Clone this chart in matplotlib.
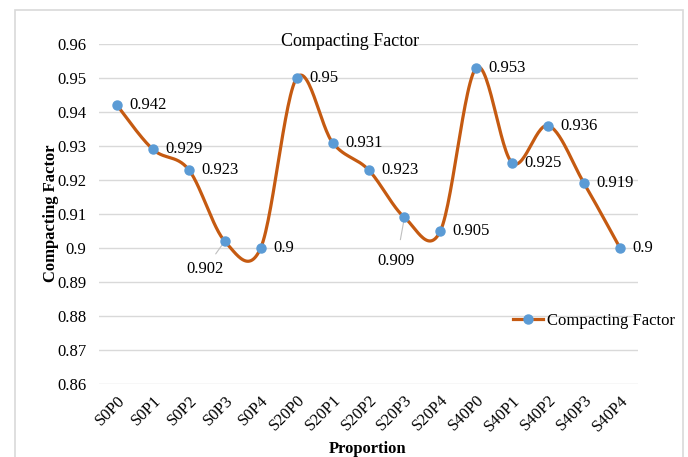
import numpy as np
import matplotlib
matplotlib.use("Agg")
import matplotlib.pyplot as plt
from matplotlib.lines import Line2D
from matplotlib.patches import Rectangle

plt.rcParams['font.family'] = ['Liberation Serif', 'DejaVu Serif']

# data
proportions = ['S0P0', 'S0P1', 'S0P2', 'S0P3', 'S0P4',
               'S20P0', 'S20P1', 'S20P2', 'S20P3', 'S20P4',
               'S40P0', 'S40P1', 'S40P2', 'S40P3', 'S40P4']
compacting = [0.942, 0.929, 0.923, 0.902, 0.9,
              0.95, 0.931, 0.923, 0.909, 0.905,
              0.953, 0.925, 0.936, 0.919, 0.9]
yticks = [0.86, 0.87, 0.88, 0.89, 0.9, 0.91, 0.92, 0.93, 0.94, 0.95, 0.96]
ytick_labels = ['0.86', '0.87', '0.88', '0.89', '0.9', '0.91', '0.92',
                '0.93', '0.94', '0.95', '0.96']

LINE = '#C55A11'
MARK = '#5B9BD5'
GRID = '#D9D9D9'


def smooth(x, y, n=30):
    # excel style smoothed line (catmull-rom as cubic bezier)
    x = np.asarray(x, float)
    y = np.asarray(y, float)
    px = np.concatenate([[x[0]], x, [x[-1]]])
    py = np.concatenate([[y[0]], y, [y[-1]]])
    t = np.linspace(0, 1, n)
    xs, ys = [], []
    for i in range(1, len(px) - 2):
        x0, y0 = px[i], py[i]
        x3, y3 = px[i + 1], py[i + 1]
        x1 = x0 + (px[i + 1] - px[i - 1]) / 6
        y1 = y0 + (py[i + 1] - py[i - 1]) / 6
        x2 = x3 - (px[i + 2] - px[i]) / 6
        y2 = y3 - (py[i + 2] - py[i]) / 6
        b0 = (1 - t) ** 3
        b1 = 3 * (1 - t) ** 2 * t
        b2 = 3 * (1 - t) * t ** 2
        b3 = t ** 3
        xs.append(b0 * x0 + b1 * x1 + b2 * x2 + b3 * x3)
        ys.append(b0 * y0 + b1 * y1 + b2 * y2 + b3 * y3)
    return np.concatenate(xs), np.concatenate(ys)


fig = plt.figure(figsize=(6.88, 4.57), dpi=100)
ax = fig.add_axes([99 / 688, 1 - 384 / 457, (638 - 99) / 688, (384 - 44) / 457])

x = np.arange(len(proportions))
sx, sy = smooth(x, compacting)
ax.plot(sx, sy, color=LINE, lw=2.3, solid_capstyle='round', zorder=3)
ax.plot(x, compacting, ls='none', marker='o', ms=6.5, color=MARK, zorder=4)

ax.set_xlim(-0.5, len(proportions) - 0.5)
ax.set_ylim(0.86, 0.96)
ax.set_yticks(yticks)
ax.set_yticklabels(ytick_labels)
ax.set_xticks(x)
ax.set_xticklabels(proportions, rotation=45, ha='right', va='top',
                   rotation_mode='anchor')
ax.tick_params(length=0, labelsize=12, pad=9)
ax.tick_params(axis='x', pad=6)
for s in ax.spines.values():
    s.set_visible(False)
ax.grid(axis='y', color=GRID, lw=1)
ax.set_axisbelow(True)

# data labels
for i, v in enumerate(compacting):
    lab = ('%.3f' % v).rstrip('0').rstrip('.')
    if lab == '0.902':
        ax.annotate(lab, (i, v), xytext=(-20, -28), textcoords='offset pixels',
                    ha='center', va='center', fontsize=12,
                    arrowprops=dict(arrowstyle='-', color='#BFBFBF', lw=0.8,
                                    shrinkA=4, shrinkB=0))
    elif lab == '0.909':
        ax.annotate(lab, (i, v), xytext=(-8, -44), textcoords='offset pixels',
                    ha='center', va='center', fontsize=12,
                    arrowprops=dict(arrowstyle='-', color='#BFBFBF', lw=0.8,
                                    shrinkA=8, shrinkB=0))
    else:
        ax.annotate(lab, (i, v), xytext=(9, 0), textcoords='offset points',
                    ha='left', va='center', fontsize=12)

fig.text(350 / 688, 1 - 41 / 457, 'Compacting Factor', ha='center', va='center',
         fontsize=13)
fig.text(51 / 688, 1 - 213 / 457, 'Compacting Factor', ha='center', va='center',
         rotation=90, fontsize=12, fontweight='bold')
fig.text(368 / 688, 1 - 449 / 457, 'Proportion', ha='center', va='center',
         fontsize=12, fontweight='bold')

handle = Line2D([], [], color=LINE, lw=2.3, marker='o', ms=6.5,
                markerfacecolor=MARK, markeredgecolor=MARK)
fig.legend([handle], ['Compacting Factor'], loc='center left',
           bbox_to_anchor=(505 / 688, 1 - 321 / 457), frameon=False,
           fontsize=12, handlelength=1.8, handletextpad=0.2, borderpad=0)

fig.patches.append(Rectangle((15 / 688, -0.05), (683 - 15) / 688, 1.05 - 10 / 457,
                             transform=fig.transFigure, fill=False,
                             edgecolor=GRID, lw=1.2))

fig.savefig('out.png', dpi=100)
